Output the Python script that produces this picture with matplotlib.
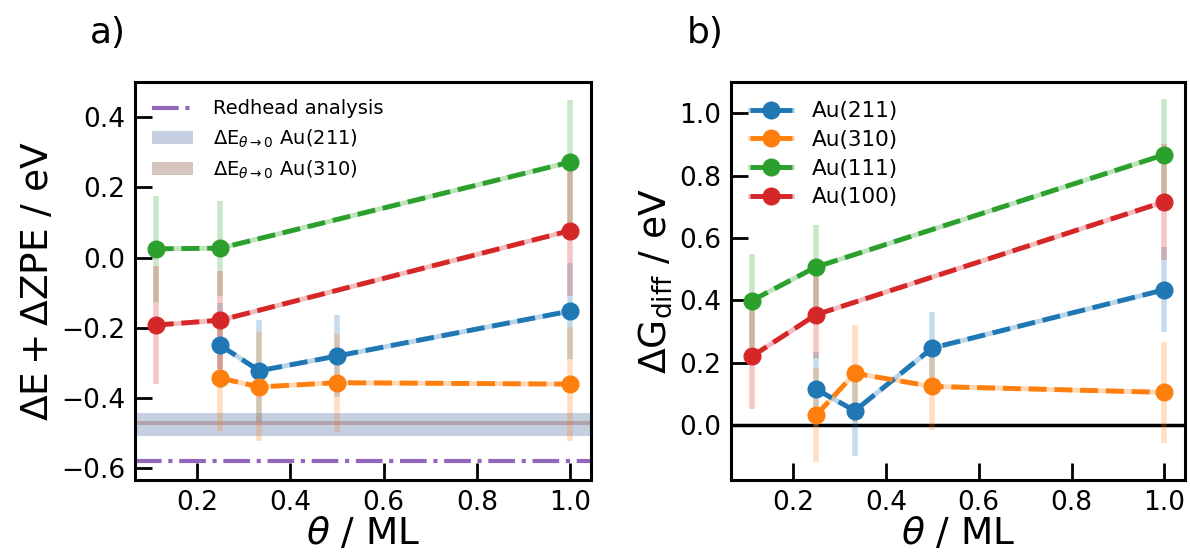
import matplotlib
matplotlib.use("Agg")
import matplotlib.pyplot as plt
import numpy as np

# ---- data ----
theta_211 = [0.25, 1/3, 0.5, 1.0]
theta_310 = [0.25, 1/3, 0.5, 1.0]
theta_111 = [1/9, 0.25, 1.0]
theta_100 = [1/9, 0.25, 1.0]

# panel a) dE + dZPE
e_211 = [-0.250, -0.322, -0.280, -0.152]
e_310 = [-0.343, -0.368, -0.356, -0.360]
e_111 = [0.025, 0.027, 0.272]
e_100 = [-0.192, -0.178, 0.077]

# panel b) dG_diff
g_211 = [0.115, 0.046, 0.247, 0.434]
g_310 = [0.032, 0.166, 0.124, 0.105]
g_111 = [0.399, 0.507, 0.867]
g_100 = [0.220, 0.354, 0.716]

# uncertainties (same ensemble spread in both panels)
err_211 = [0.12, 0.145, 0.117, 0.136]
err_310 = [0.15, 0.155, 0.14, 0.162]
err_111 = [0.15, 0.135, 0.178]
err_100 = [0.168, 0.14, 0.186]

redhead = -0.58
band_211 = [-0.507, -0.443]
band_310 = [-0.477, -0.465]

labels = ['Au(211)', 'Au(310)', 'Au(111)', 'Au(100)']
colors = ['C0', 'C1', 'C2', 'C3']

plt.rcParams['font.family'] = ['DejaVu Sans']
plt.rcParams['mathtext.fontset'] = 'dejavusans'

fig = plt.figure(figsize=(11.9, 5.57), dpi=100)
axa = fig.add_axes([0.1134, 0.1382, 0.3832, 0.7146])
axb = fig.add_axes([0.6143, 0.1382, 0.3815, 0.7146])

def draw_series(ax, xs, ys, es):
    handles = []
    for x, y, e, c, lab in zip(xs, ys, es, colors, labels):
        ax.errorbar(x, y, yerr=e, fmt='none', ecolor=c, elinewidth=4,
                    alpha=0.25, capsize=0, zorder=2)
        l1, = ax.plot(x, y, '-', color=c, lw=3.5, alpha=0.3, zorder=3)
        l2, = ax.plot(x, y, '--', color=c, lw=3.5, marker='o', ms=12,
                      zorder=4)
        handles.append((l1, l2))
    return handles

xs = [theta_211, theta_310, theta_111, theta_100]

# panel a
hb1 = axa.axhspan(band_211[0], band_211[1], color=(0.44, 0.53, 0.70),
                  alpha=0.4, lw=0, zorder=1,
                  label=r'$\Delta\mathrm{E}_{\theta\rightarrow0}$ Au(211)')
hb2 = axa.axhspan(band_310[0], band_310[1], color='#8c564b', alpha=0.35,
                  lw=0, zorder=1,
                  label=r'$\Delta\mathrm{E}_{\theta\rightarrow0}$ Au(310)')
hr, = axa.plot([0, 1], [redhead, redhead], color='C4', lw=3, ls='-.',
               transform=axa.get_yaxis_transform(), label='Redhead analysis',
               zorder=2)
draw_series(axa, xs, [e_211, e_310, e_111, e_100],
            [err_211, err_310, err_111, err_100])
axa.set_xlim(0.0667, 1.0444)
axa.set_ylim(-0.633, 0.50)
axa.set_yticks([-0.6, -0.4, -0.2, 0.0, 0.2, 0.4])
axa.set_xticks([0.2, 0.4, 0.6, 0.8, 1.0])
axa.set_ylabel(r'$\Delta\mathrm{E} + \Delta\mathrm{ZPE}$ / eV', fontsize=27)
axa.set_xlabel(r'$\theta$ / ML', fontsize=27, labelpad=0)
axa.legend(handles=[hr, hb1, hb2], loc='upper left', frameon=False,
           fontsize=14, labelspacing=0.45, borderaxespad=0.5,
           handletextpad=1.0, handlelength=2.1)

# panel b
axb.axhline(0, color='k', lw=2.5, zorder=1)
hs = draw_series(axb, xs, [g_211, g_310, g_111, g_100],
                 [err_211, err_310, err_111, err_100])
axb.set_xlim(0.0667, 1.0444)
axb.set_ylim(-0.176, 1.10)
axb.set_yticks([0.0, 0.2, 0.4, 0.6, 0.8, 1.0])
axb.set_xticks([0.2, 0.4, 0.6, 0.8, 1.0])
axb.set_ylabel(r'$\Delta\mathrm{G}_{\mathrm{diff}}$ / eV', fontsize=27)
axb.set_xlabel(r'$\theta$ / ML', fontsize=27, labelpad=0)
axb.legend(handles=hs, labels=labels, loc='upper left', frameon=False,
           fontsize=15.5, labelspacing=0.4, borderaxespad=0.5,
           handletextpad=0.9, handlelength=1.95)

for ax in (axa, axb):
    ax.tick_params(direction='in', length=12, width=2, labelsize=19, pad=7)
    for s in ax.spines.values():
        s.set_linewidth(2.2)

fig.text(108/1190, 1 - 33/557, 'a)', fontsize=26, ha='center', va='center')
fig.text(705/1190, 1 - 33/557, 'b)', fontsize=26, ha='center', va='center')

fig.savefig('out.png', dpi=100)
